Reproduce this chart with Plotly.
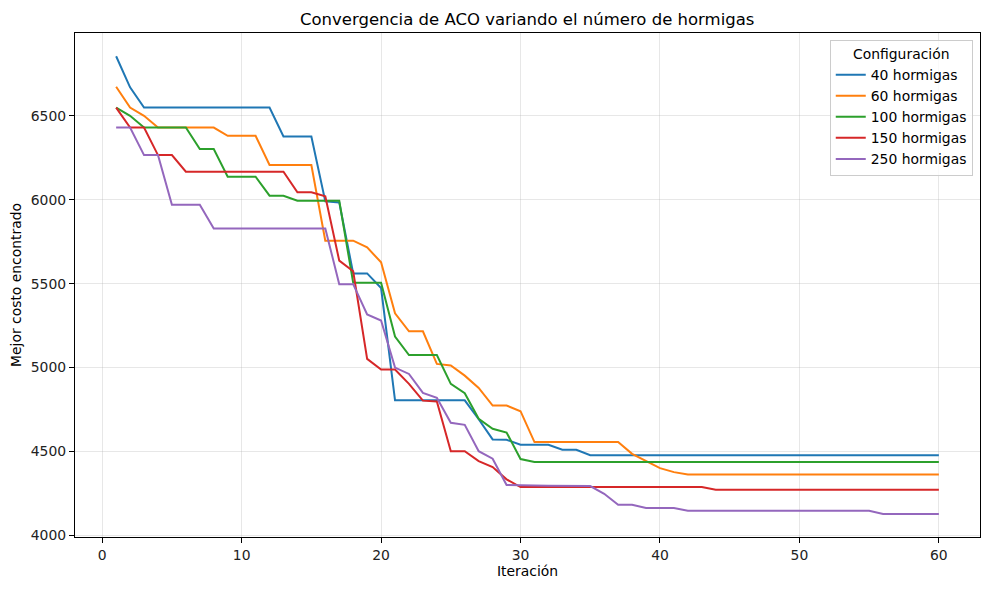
import plotly.graph_objects as go

# iteraciones 1..60
iteraciones = list(range(1, 61))

costo_40 = [6855, 6670] + [6549] * 10 + [6377] * 3 + [5990, 5984, 5561, 5561, 5474] \
    + [4805] * 6 + [4692, 4572, 4570, 4540, 4540, 4540, 4510, 4510] + [4478] * 26

costo_60 = [6673, 6549, 6500] + [6430] * 5 + [6381] * 3 + [6207] * 4 + [5756] * 3 \
    + [5716, 5627, 5323, 5216, 5216, 5022, 5012, 4952, 4879, 4774, 4774, 4740] \
    + [4556] * 7 + [4486, 4443, 4401, 4377] + [4363] * 19

costo_100 = [6549, 6500] + [6430] * 4 + [6302] * 2 + [6137] * 3 + [6024] * 2 + [5994] * 4 \
    + [5505] * 3 + [5185] + [5075] * 3 + [4903, 4847, 4695, 4635, 4613, 4455] + [4437] * 30

costo_150 = [6549, 6430, 6430, 6266, 6266] + [6167] * 8 + [6044] * 2 \
    + [6020, 5637, 5574, 5052, 4988, 4988, 4903, 4803, 4798, 4502, 4502, 4443, 4407, 4334] \
    + [4288] * 14 + [4272] * 17

costo_250 = [6430, 6430, 6266, 6266] + [5970] * 3 + [5829] * 9 + [5497] * 2 \
    + [5316, 5280, 5000, 4962, 4849, 4820, 4671, 4659, 4502, 4457, 4300] \
    + [4297, 4297, 4296, 4296, 4295, 4294] + [4248] + [4183] * 2 + [4163] * 3 \
    + [4147] * 14 + [4127] * 5

series = [
    ("40 hormigas", costo_40, "#1f77b4"),
    ("60 hormigas", costo_60, "#ff7f0e"),
    ("100 hormigas", costo_100, "#2ca02c"),
    ("150 hormigas", costo_150, "#d62728"),
    ("250 hormigas", costo_250, "#9467bd"),
]

fig = go.Figure()
for nombre, valores, color in series:
    fig.add_trace(go.Scatter(x=iteraciones, y=valores, mode="lines", name=nombre,
                             line=dict(color=color, width=2)))

eje = dict(showline=True, linecolor="black", linewidth=1.2, mirror=True,
           ticks="outside", ticklen=5, tickwidth=1, tickcolor="black",
           showgrid=True, gridcolor="rgba(176,176,176,0.3)", gridwidth=1,
           zeroline=False, automargin=False, tickfont=dict(size=13.9, color="#222"))

# la página añade 8px de margen al cuerpo, así que se compensa aquí
fig.update_layout(
    width=989, height=590,
    paper_bgcolor="white", plot_bgcolor="white",
    font=dict(family="DejaVu Sans", color="black", size=13.9),
    margin=dict(l=67, r=17, t=25, b=61),
    title=dict(text="Convergencia de ACO variando el número de hormigas",
               x=0.525, xanchor="center", y=0.99, yanchor="top",
               font=dict(size=16.5, color="black")),
    xaxis=dict(eje, range=[-1.95, 62.95], tickvals=[0, 10, 20, 30, 40, 50, 60],
               title=dict(text="Iteración", font=dict(size=13.9), standoff=4)),
    yaxis=dict(eje, range=[3990.5, 6993.5], tickvals=[4000, 4500, 5000, 5500, 6000, 6500],
               title=dict(text="Mejor costo encontrado", font=dict(size=13.9), standoff=6)),
    legend=dict(x=0.992, xanchor="right", y=0.986, yanchor="top",
                bgcolor="rgba(255,255,255,0.8)", bordercolor="#cccccc", borderwidth=1,
                font=dict(size=13.9), itemwidth=30, tracegroupgap=0,
                title=dict(text="Configuración", side="top center", font=dict(size=13.9))),
)

fig.write_html("out.html")
